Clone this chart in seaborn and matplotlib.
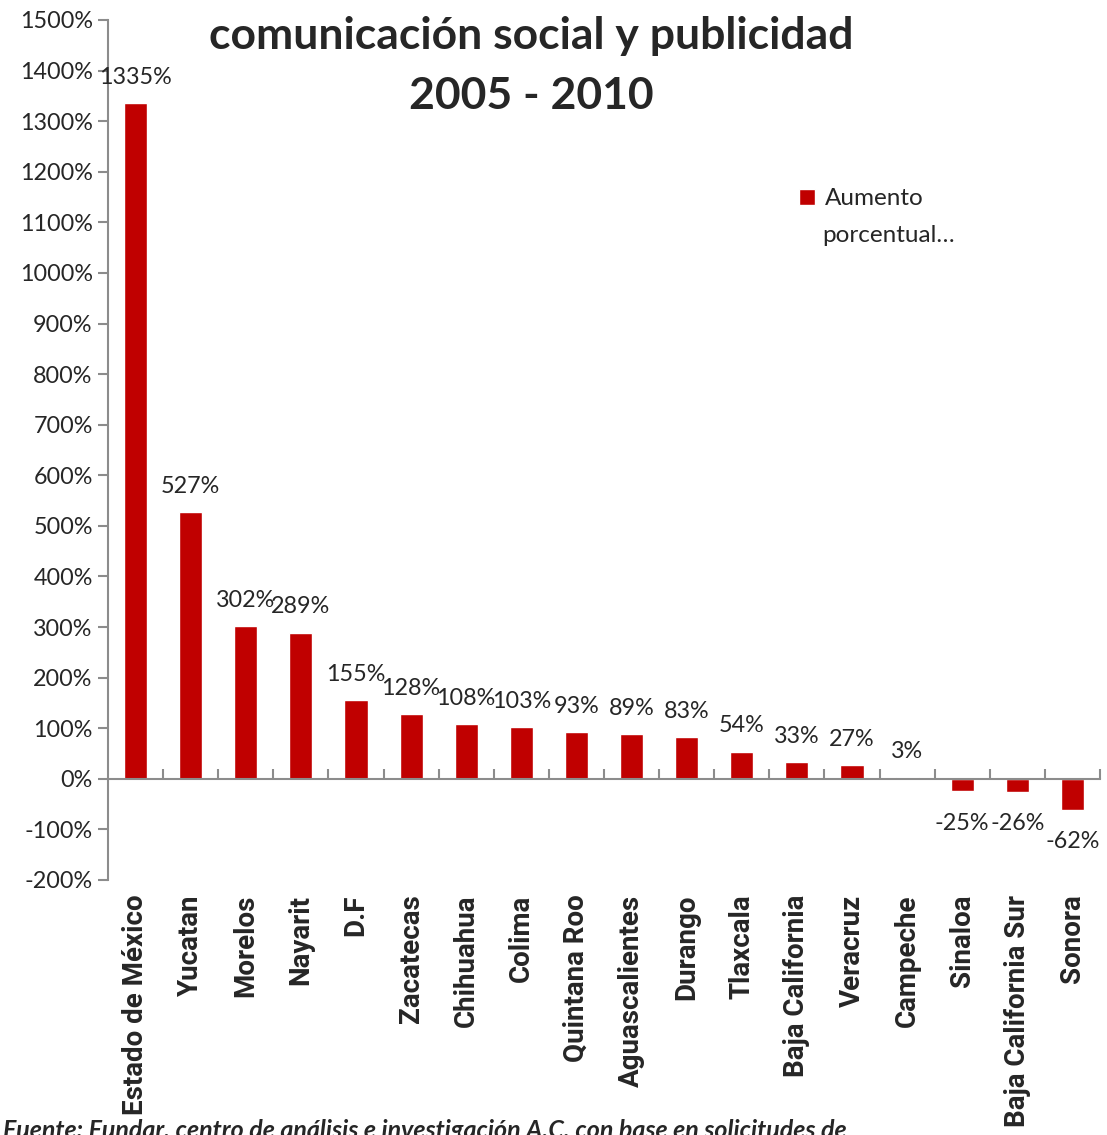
import matplotlib
matplotlib.use("Agg")
import matplotlib.pyplot as plt
from matplotlib.font_manager import FontProperties
import seaborn as sns
import pandas as pd
import numpy as np

estados = ['Estado de México', 'Yucatan', 'Morelos', 'Nayarit', 'D.F', 'Zacatecas',
           'Chihuahua', 'Colima', 'Quintana Roo', 'Aguascalientes', 'Durango',
           'Tlaxcala', 'Baja California', 'Veracruz', 'Campeche', 'Sinaloa',
           'Baja California Sur', 'Sonora']
aumento = [1335, 527, 302, 289, 155, 128, 108, 103, 93, 89, 83, 54, 33, 27, 3, -25, -26, -62]
yticks = list(range(-200, 1501, 100))

df = pd.DataFrame({'estado': estados, 'aumento': aumento})

sns.set_style('white')
plt.rcParams['font.family'] = ['Lato', 'DejaVu Sans']

fig = plt.figure(figsize=(11.07, 11.35), dpi=100)
ax = fig.add_axes([108 / 1107, 1 - 880 / 1135, (1100 - 108) / 1107, (880 - 20) / 1135])

rojo = '#C00000'
sns.barplot(data=df, x='estado', y='aumento', color=rojo, width=0.42,
            saturation=1, ax=ax, label='Aumento')

ax.set_ylim(-200, 1500)
ax.set_xlim(-0.5, len(estados) - 0.5)
ax.set_yticks(yticks)
ax.set_yticklabels([f'{v}%' for v in yticks], fontsize=16.8)
ax.set_xticks([])
ax.set_xlabel('')
ax.set_ylabel('')

gris = '#8c8c8c'
for s in ['top', 'right']:
    ax.spines[s].set_visible(False)
ax.spines['left'].set_color(gris)
ax.spines['left'].set_linewidth(1.5)
ax.spines['bottom'].set_position(('data', 0))
ax.spines['bottom'].set_color(gris)
ax.spines['bottom'].set_linewidth(1.5)
ax.tick_params(axis='y', left=True, direction='out', length=7, width=1.5, color=gris, pad=4)
ax.set_xticks(np.arange(0.5, len(estados), 1), minor=True)
ax.tick_params(axis='x', which='minor', bottom=True, direction='in', length=7, width=1.5, color=gris)

# etiquetas de valor
for i, v in enumerate(aumento):
    if v >= 0:
        ax.text(i, v + 30, f'{v}%', ha='center', va='bottom', fontsize=16.8)
    else:
        ax.text(i, v - 42, f'{v}%', ha='center', va='top', fontsize=16.8)

# etiquetas de categoria
fp_cat = FontProperties(family=['Roboto', 'DejaVu Sans'], weight='bold', size=20)
trans = ax.get_xaxis_transform()
for i, e in enumerate(estados):
    ax.text(i, -0.017, e, rotation=90, ha='center', va='top', transform=trans,
            fontproperties=fp_cat)

fig.text(531 / 1107, 1 - 36 / 1135, 'comunicación social y publicidad', ha='center',
         va='center', fontsize=32, fontweight='bold')
fig.text(531 / 1107, 1 - 96 / 1135, '2005 - 2010', ha='center',
         va='center', fontsize=32, fontweight='bold')

leg = ax.legend(loc='center left', bbox_to_anchor=(0.697, 0.792), frameon=False,
                fontsize=17.5, handlelength=0.65, handleheight=0.65, handletextpad=0.4,
                borderaxespad=0, borderpad=0)
fig.text(822 / 1107, 1 - 236 / 1135, 'porcentual…', ha='left', va='center', fontsize=17.5)

fig.text(0.003, 4 / 1135, 'Fuente: Fundar, centro de análisis e investigación A.C. con base en solicitudes de',
         ha='left', va='center', fontsize=18, fontweight='bold', style='italic')

fig.savefig('out.png', dpi=100)
